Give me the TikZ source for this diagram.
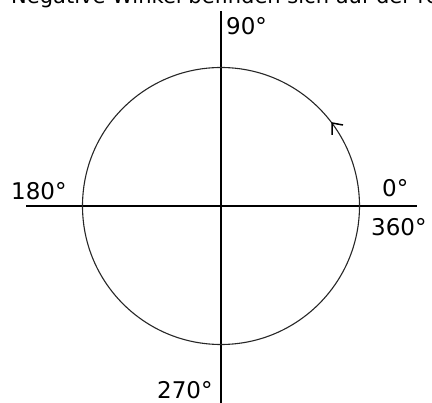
\documentclass[tikz,border=0pt]{standalone}
\usepackage{fontspec}
\setmainfont{DejaVu Sans}
\begin{document}
\begin{tikzpicture}[x=1pt,y=-1pt,
  lbl/.style={inner sep=0pt,anchor=base west,font=\fontsize{23}{23}\selectfont},
  axis/.style={line width=1.5pt,black},
  ring/.style={line width=1.1pt,black!85},
  barb/.style={line width=1.5pt,black}]
\useasboundingbox (0,0) rectangle (432,403);
\clip (0,0) rectangle (432,403);
\node[inner sep=0pt,anchor=base west,font=\fontsize{21}{21}\selectfont] (top) at (11,4) {Negative Winkel befinden sich auf der rechten};
\coordinate (c) at (221,206);
\coordinate (ytop) at (221,11);
\coordinate (ybot) at (221,403);
\coordinate (xl) at (26,206);
\coordinate (xr) at (417,206);
\draw[axis] (ytop) -- (ybot);
\draw[axis] (xl) -- (xr);
\draw[ring] (c) circle (138.5);
\coordinate (tip) at (332,123);
\coordinate (armA) at (343,125);
\coordinate (armB) at (332,135);
\draw[barb] (armA) -- (tip) -- (armB);
\node[lbl] (n90) at (226,35) {90°};
\node[lbl] (n180) at (11,200) {180°};
\node[lbl] (n0) at (382,197) {0°};
\node[lbl] (n360) at (371,236) {360°};
\node[lbl] (n270) at (157,399) {270°};
\end{tikzpicture}
\end{document}
